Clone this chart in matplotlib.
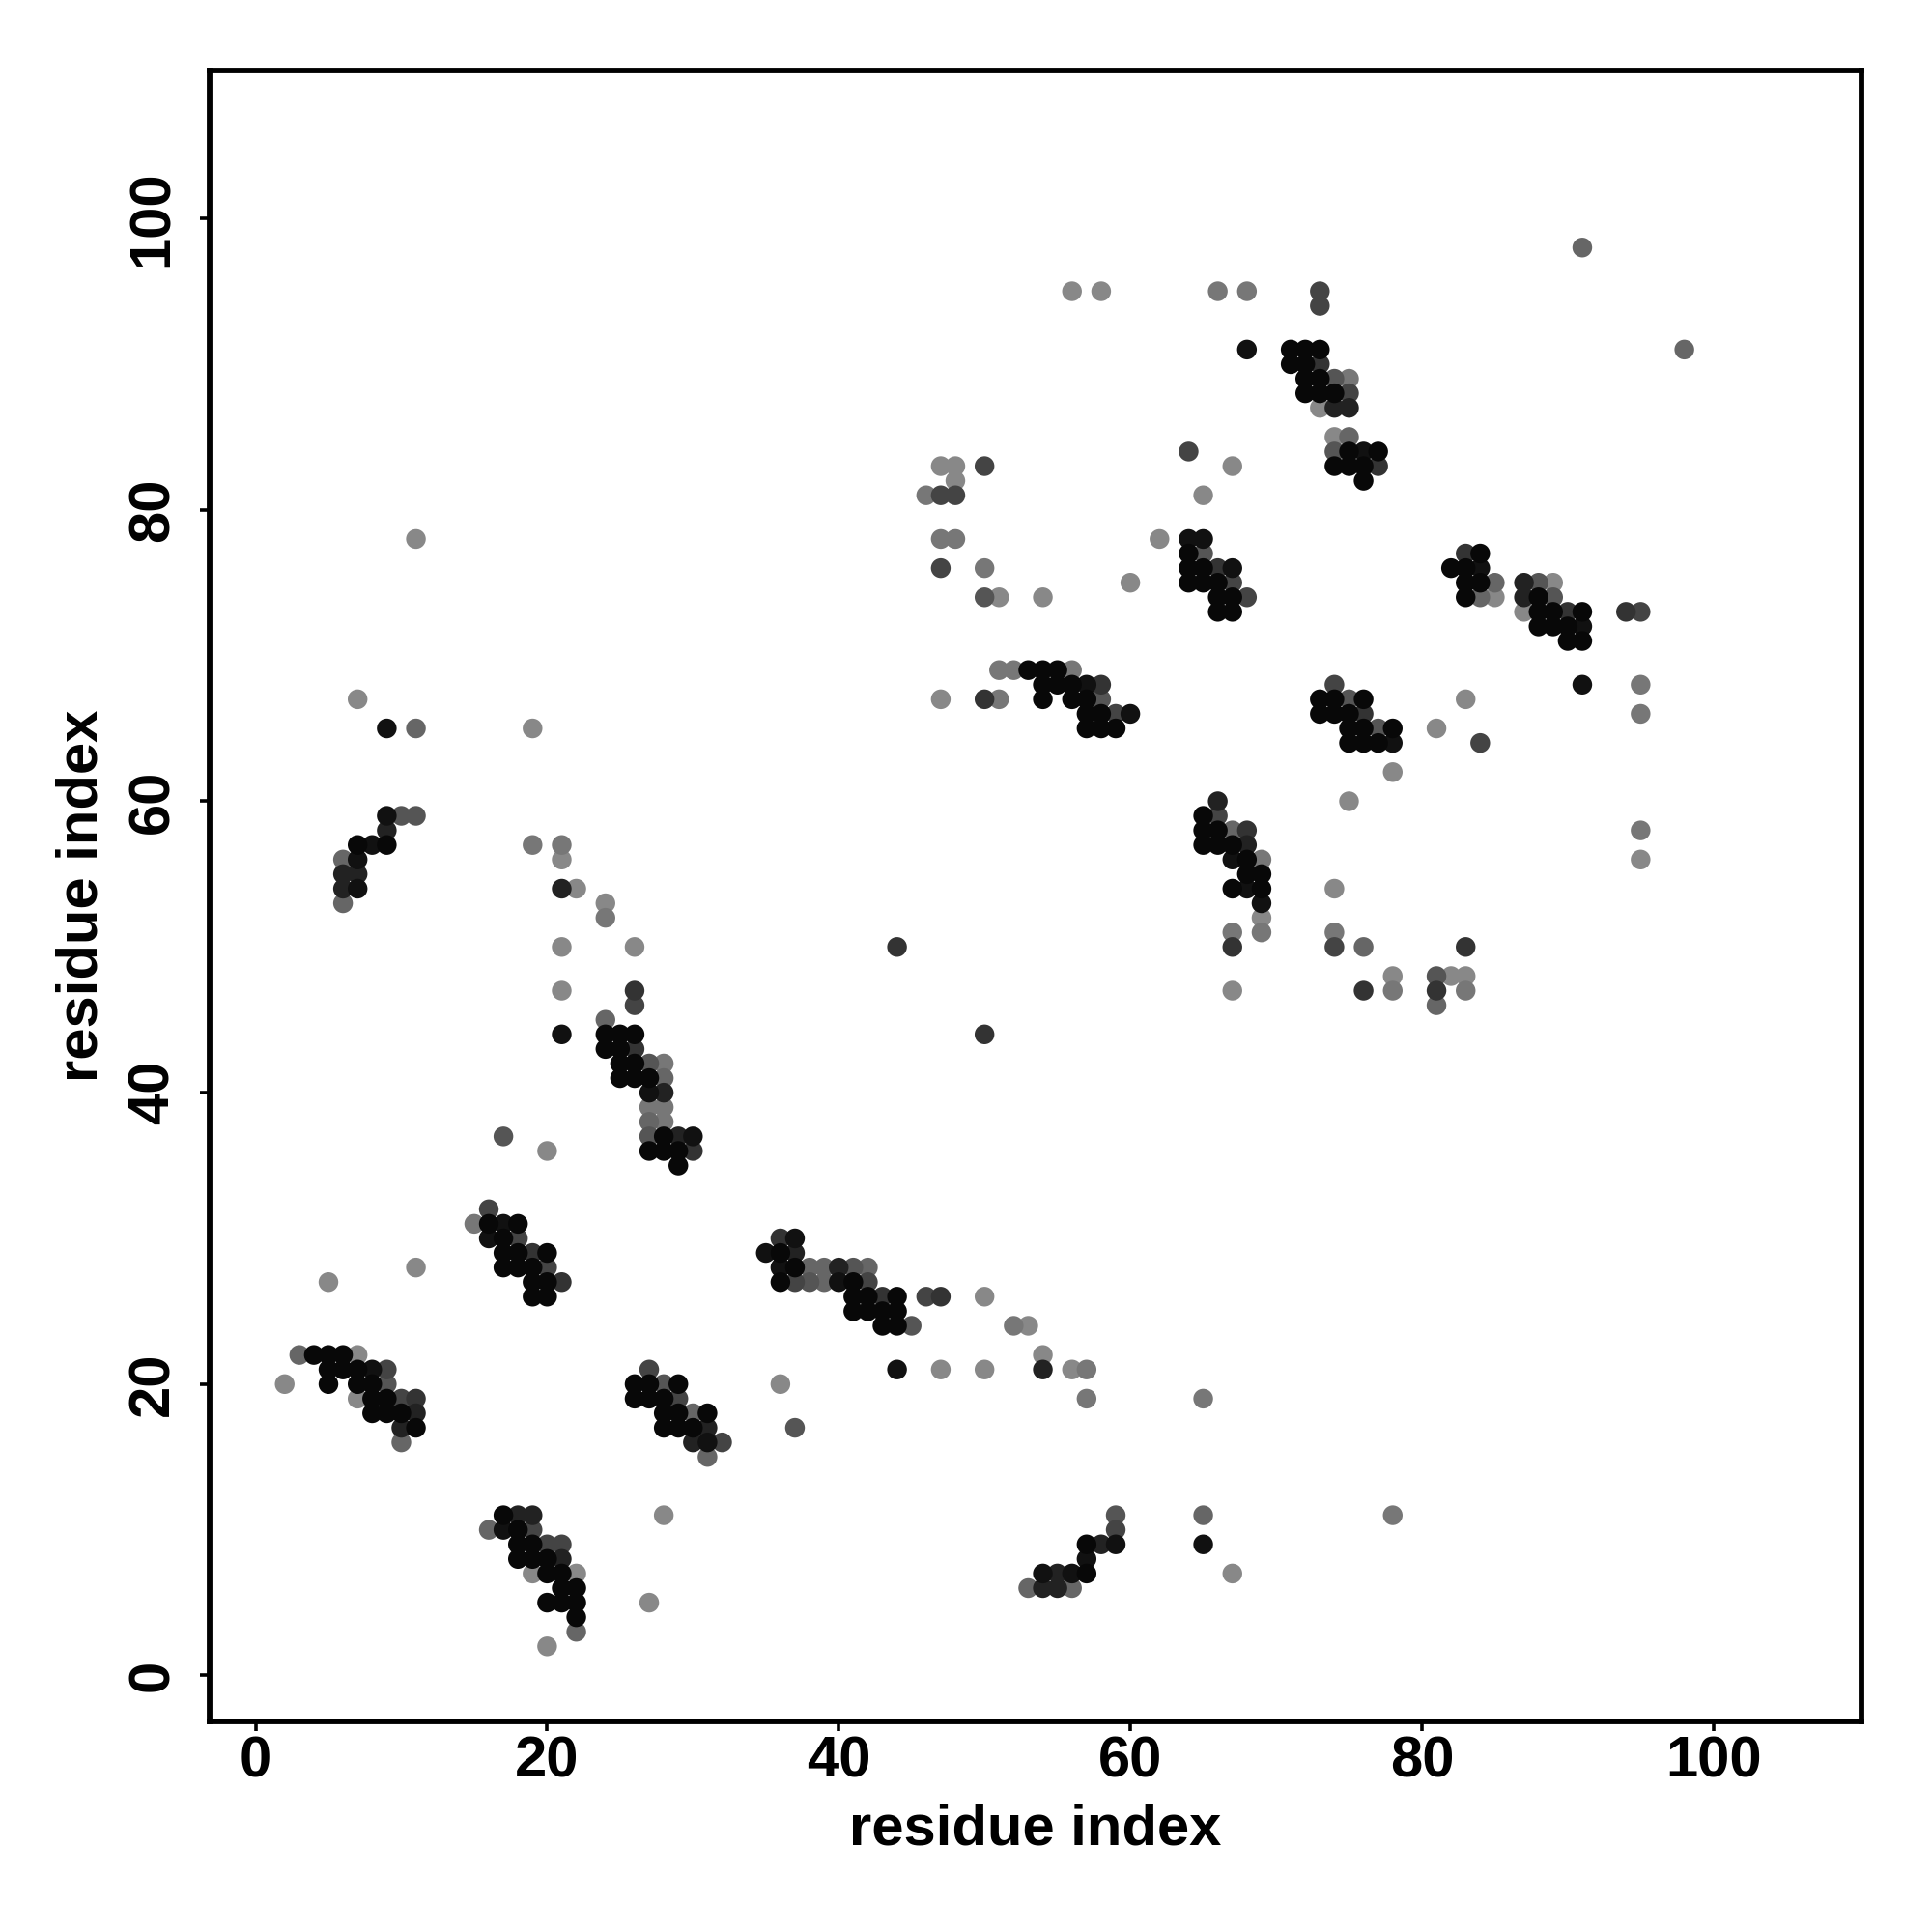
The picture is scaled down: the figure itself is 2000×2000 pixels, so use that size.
import matplotlib
matplotlib.use("Agg")
import matplotlib.pyplot as plt
import numpy as np

# contact map points: residue i (x), residue j (y), grey shade code (0 = black ... 8 = light grey)
res_x = [
    # cluster 2-11 / 16-22
    3, 4, 5, 6, 7, 5, 6, 7, 8, 9, 2, 5, 7, 8, 9, 7, 8, 9, 10, 11, 8, 9, 10, 11, 10, 11, 10,
    # cluster 15-21 / 26-32
    16, 15, 16, 17, 18, 16, 17, 18, 17, 18, 19, 20, 17, 18, 19, 20, 19, 20, 21, 19, 20,
    5, 11,
    # cluster 26-32 / 15-21
    27, 26, 27, 28, 29, 26, 27, 28, 29, 28, 29, 30, 31, 28, 29, 30, 31, 30, 31, 32, 31,
    28, 27,
    # cluster 16-22 / 2-11
    17, 18, 19, 16, 17, 18, 19, 18, 19, 20, 21, 18, 19, 20, 21, 19, 20, 21, 22, 21, 22,
    20, 21, 22, 22, 22, 20,
    # cluster 35-57 / 17-30
    36, 37, 35, 36, 37, 36, 37, 38, 39, 40, 41, 42, 36, 37, 38, 39, 40, 41, 42,
    41, 42, 43, 44, 46, 47, 50, 41, 42, 43, 44, 43, 44, 45, 52, 53, 54,
    44, 47, 50, 54, 56, 57, 36, 57, 65, 37,
    # cluster 53-67 / 6-11
    59, 65, 59, 57, 58, 59, 65, 57, 54, 55, 56, 57, 67, 53, 54, 55, 56, 78,
    # upper left
    7, 9, 11, 19, 9, 10, 11, 9, 7, 8, 9, 19, 21, 6, 7, 21, 6, 7, 6, 7, 21, 22, 6, 24,
    24, 21, 26, 21, 26, 26, 24, 21, 24, 25, 26, 24, 25, 26, 25, 26, 27, 28,
    25, 26, 27, 28, 27, 28, 27, 28, 27, 28, 17, 27, 28, 29, 30, 20, 27, 28, 29, 30, 29,
    11,
    # cluster 47-60 / 65-69
    51, 52, 53, 54, 55, 56, 54, 55, 56, 57, 58, 47, 50, 51, 54, 56, 57, 58,
    57, 58, 59, 60, 57, 58, 59,
    # cluster 65-69 / 47-60
    66, 65, 66, 65, 66, 67, 68, 65, 66, 67, 68, 67, 68, 69, 68, 69, 67, 68, 69, 69, 69,
    67, 69, 67, 67, 44, 50,
    # cluster 73-95 / 46-68
    74, 91, 95, 73, 74, 75, 76, 83, 73, 74, 75, 76, 95, 75, 76, 77, 78, 81,
    75, 76, 77, 78, 84, 78, 75, 95, 95, 74, 74, 74, 76, 83, 78, 81, 82, 83,
    76, 78, 81, 83, 81,
    # upper middle
    56, 58, 66, 68, 68, 64, 47, 48, 50, 67, 48, 46, 47, 48, 65,
    47, 48, 62, 64, 65, 64, 65, 47, 50, 64, 65, 66, 67, 60, 64, 65, 66, 67,
    50, 51, 54, 66, 67, 68, 66, 67,
    # upper right
    73, 73, 71, 72, 73, 98, 71, 72, 73, 72, 73, 74, 75, 72, 73, 74, 75, 73, 74, 75,
    74, 75, 74, 75, 76, 77, 74, 75, 76, 77, 76,
    83, 84, 82, 83, 84, 83, 84, 85, 87, 88, 89, 83, 84, 85, 87, 88, 89,
    87, 88, 89, 90, 91, 94, 95, 88, 89, 90, 91, 90, 91, 91,
]

res_y = [
    22, 22, 22, 22, 22, 21, 21, 21, 21, 21, 20, 20, 20, 20, 20, 19, 19, 19, 19, 19, 18, 18, 18, 18, 17, 17, 16,
    32, 31, 31, 31, 31, 30, 30, 30, 29, 29, 29, 29, 28, 28, 28, 28, 27, 27, 27, 26, 26,
    27, 28,
    21, 20, 20, 20, 20, 19, 19, 19, 19, 18, 18, 18, 18, 17, 17, 17, 17, 16, 16, 16, 15,
    11, 5,
    11, 11, 11, 10, 10, 10, 10, 9, 9, 9, 9, 8, 8, 8, 8, 7, 7, 7, 7, 6, 6,
    5, 5, 5, 4, 3, 2,
    30, 30, 29, 29, 29, 28, 28, 28, 28, 28, 28, 28, 27, 27, 27, 27, 27, 27, 27,
    26, 26, 26, 26, 26, 26, 26, 25, 25, 25, 25, 24, 24, 24, 24, 24, 22,
    21, 21, 21, 21, 21, 21, 20, 19, 19, 17,
    11, 11, 10, 9, 9, 9, 9, 8, 7, 7, 7, 7, 7, 6, 6, 6, 6, 11,
    67, 65, 65, 65, 59, 59, 59, 58, 57, 57, 57, 57, 57, 56, 56, 56, 55, 55, 54, 54, 54, 54, 53, 53,
    52, 50, 50, 47, 47, 46, 45, 44, 44, 44, 44, 43, 43, 43, 42, 42, 42, 42,
    41, 41, 41, 41, 40, 40, 39, 39, 38, 38, 37, 37, 37, 37, 37, 36, 36, 36, 36, 36, 35,
    78,
    69, 69, 69, 69, 69, 69, 68, 68, 68, 68, 68, 67, 67, 67, 67, 67, 67, 67,
    66, 66, 66, 66, 65, 65, 65,
    60, 59, 59, 58, 58, 58, 58, 57, 57, 57, 57, 56, 56, 56, 55, 55, 54, 54, 54, 53, 52,
    51, 51, 50, 47, 50, 44,
    68, 68, 68, 67, 67, 67, 67, 67, 66, 66, 66, 66, 66, 65, 65, 65, 65, 65,
    64, 64, 64, 64, 64, 62, 60, 58, 56, 54, 51, 50, 50, 50, 48, 48, 48, 48,
    47, 47, 47, 47, 46,
    95, 95, 95, 95, 91, 84, 83, 83, 83, 83, 82, 81, 81, 81, 81,
    78, 78, 78, 78, 78, 77, 77, 76, 76, 76, 76, 76, 76, 75, 75, 75, 75, 75,
    74, 74, 74, 74, 74, 74, 73, 73,
    95, 94, 91, 91, 91, 91, 90, 90, 90, 89, 89, 89, 89, 88, 88, 88, 88, 87, 87, 87,
    85, 85, 84, 84, 84, 84, 83, 83, 83, 83, 82,
    77, 77, 76, 76, 76, 75, 75, 75, 75, 75, 75, 74, 74, 74, 74, 74, 74,
    73, 73, 73, 73, 73, 73, 73, 72, 72, 72, 72, 71, 71, 98,
]

shade = [
    6, 0, 0, 0, 8, 0, 0, 0, 1, 4, 8, 0, 0, 0, 5, 8, 0, 0, 4, 3, 0, 0, 0, 2, 2, 0, 6,
    4, 7, 0, 1, 0, 1, 0, 4, 0, 0, 3, 0, 0, 0, 0, 4, 0, 0, 3, 0, 0,
    8, 8,
    4, 0, 0, 5, 0, 0, 0, 0, 4, 0, 0, 6, 0, 0, 0, 0, 2, 2, 1, 4, 6,
    8, 8,
    0, 2, 2, 6, 1, 0, 4, 0, 0, 4, 4, 0, 0, 0, 2, 8, 0, 0, 8, 0, 0,
    0, 0, 0, 0, 6, 8,
    3, 1, 1, 0, 2, 1, 0, 6, 6, 2, 5, 6, 0, 4, 5, 6, 1, 0, 4,
    0, 0, 3, 0, 4, 3, 8, 0, 0, 0, 0, 0, 0, 5, 7, 8, 8,
    1, 8, 8, 2, 8, 7, 8, 7, 7, 5,
    5, 6, 4, 0, 2, 1, 1, 1, 1, 2, 1, 0, 8, 6, 2, 2, 6, 7,
    8, 1, 6, 8, 1, 5, 5, 2, 0, 1, 0, 7, 7, 6, 1, 8, 2, 2, 2, 1, 2, 8, 6, 8,
    7, 8, 8, 8, 3, 4, 6, 1, 0, 0, 0, 0, 0, 3, 0, 0, 5, 7,
    0, 0, 0, 6, 1, 2, 7, 7, 6, 7, 5, 5, 0, 2, 1, 8, 0, 0, 0, 3, 0,
    8,
    7, 7, 0, 0, 0, 7, 0, 0, 0, 1, 3, 8, 3, 7, 0, 0, 0, 5,
    0, 0, 4, 1, 0, 0, 0,
    2, 0, 4, 0, 0, 6, 3, 0, 0, 0, 2, 1, 0, 7, 0, 0, 0, 1, 0, 1, 8,
    7, 7, 3, 8, 3, 3,
    4, 1, 7, 0, 0, 5, 0, 8, 0, 0, 0, 3, 7, 0, 0, 5, 0, 8,
    0, 0, 0, 1, 4, 8, 8, 7, 8, 8, 7, 4, 6, 3, 8, 5, 8, 8,
    3, 7, 3, 7, 6,
    8, 8, 7, 7, 1, 4, 8, 8, 4, 8, 8, 7, 4, 4, 8,
    7, 7, 8, 1, 1, 0, 5, 4, 7, 0, 0, 3, 1, 8, 0, 0, 0, 4,
    5, 8, 8, 0, 0, 4, 0, 0,
    4, 4, 0, 0, 0, 6, 0, 0, 3, 0, 0, 5, 7, 0, 0, 0, 4, 8, 2, 2,
    8, 6, 5, 0, 1, 0, 0, 0, 0, 3, 0,
    3, 0, 0, 0, 1, 0, 0, 6, 2, 5, 8, 0, 6, 8, 2, 0, 5,
    8, 0, 0, 3, 0, 3, 4, 0, 0, 0, 1, 0, 0, 6,
]

grey_levels = ["#080808", "#111111", "#222222", "#333333", "#444444",
               "#555555", "#666666", "#777777", "#888888"]

x = np.array(res_x)
y = np.array(res_y)
s = np.array(shade)
n = min(len(x), len(y), len(s))
x, y, s = x[:n], y[:n], s[:n]
order = np.argsort(-s, kind="stable")

plt.rcParams["font.family"] = ["Liberation Sans", "DejaVu Sans"]
plt.rcParams["font.weight"] = "bold"

fig = plt.figure(figsize=(10, 10), dpi=200)
ax = fig.add_axes([0.1085, 0.109, 0.855, 0.8545])

ax.scatter(x[order], y[order], s=54, c=[grey_levels[k] for k in s[order]],
           linewidths=0, marker="o", zorder=3)

ax.set_xlim(-3.15, 110.15)
ax.set_ylim(-3.15, 110.15)
ticks = [0, 20, 40, 60, 80, 100]
ax.set_xticks(ticks)
ax.set_yticks(ticks)
ax.set_xticklabels([str(t) for t in ticks])
ax.set_yticklabels([str(t) for t in ticks])

for sp in ax.spines.values():
    sp.set_linewidth(2.1)
    sp.set_color("black")

ax.tick_params(axis="both", direction="out", length=3.6, width=1.3,
               labelsize=21.5, colors="black")
ax.tick_params(axis="x", pad=1.8)
ax.tick_params(axis="y", pad=7.5)
for lab in ax.get_yticklabels():
    lab.set_rotation(90)
    lab.set_va("center")
    lab.set_fontweight("bold")
for lab in ax.get_xticklabels():
    lab.set_fontweight("bold")

ax.set_xlabel("residue index", fontsize=21.5, fontweight="bold")
ax.set_ylabel("residue index", fontsize=21.5, fontweight="bold")
ax.xaxis.set_label_coords(0.5, -0.0497)
ax.xaxis.label.set_va("top")
ax.yaxis.set_label_coords(-0.0614, 0.5)

fig.savefig("out.png", dpi=200, facecolor="white")
